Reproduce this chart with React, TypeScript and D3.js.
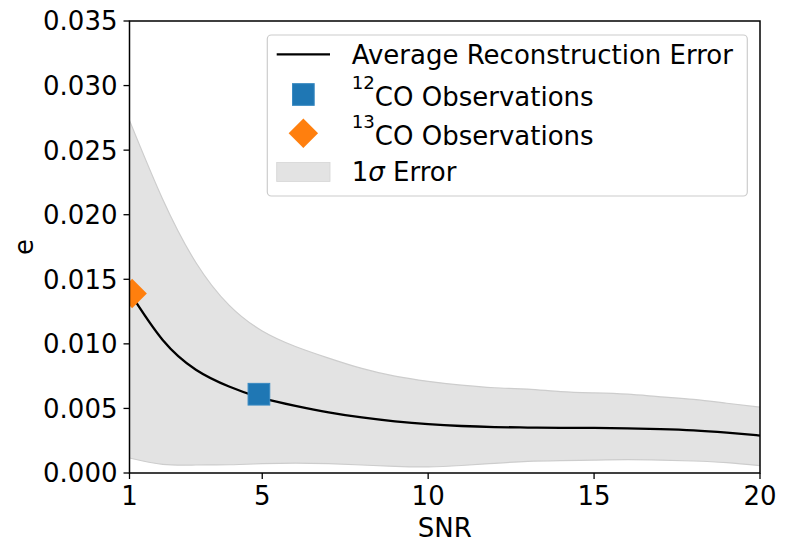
import * as d3 from 'd3';

const snr = [1, 2, 3, 4, 5, 6, 7, 8, 9, 10, 11, 12, 13, 14, 15, 16, 17, 18, 19, 20];
const meanErr = [0.0140, 0.0103, 0.0080, 0.0067, 0.0058, 0.0052, 0.0047, 0.0043, 0.0040, 0.00378, 0.00364, 0.00356, 0.00352, 0.0035, 0.00349, 0.00346, 0.0034, 0.0033, 0.00312, 0.0029];
const upperErr = [0.0273, 0.0212, 0.0163, 0.0130, 0.0110, 0.0098, 0.0089, 0.0081, 0.0075, 0.0071, 0.0068, 0.0066, 0.0065, 0.0063, 0.0062, 0.0061, 0.0059, 0.0057, 0.0054, 0.0051];
const lowerErr = [0.00116, 0.00067, 0.00062, 0.00064, 0.00072, 0.00077, 0.00072, 0.00062, 0.00051, 0.00047, 0.00058, 0.00075, 0.0009, 0.00096, 0.0010, 0.00103, 0.0010, 0.00093, 0.0008, 0.00057];

const obs12 = { snr: 4.9, e: 0.0061 };
const obs13 = { snr: 1.08, e: 0.0139 };

const xTicks = [1, 5, 10, 15, 20];
const yTicks = [0, 0.005, 0.01, 0.015, 0.02, 0.025, 0.03, 0.035];

const W = 789;
const H = 554;
const margin = { left: 129.5, right: 29, top: 21, bottom: 81 };
const FONT = '"DejaVu Sans", sans-serif';
const FS = 26;

export default function App() {
  const x = d3.scaleLinear().domain([1, 20]).range([margin.left, W - margin.right]);
  const y = d3.scaleLinear().domain([0, 0.035]).range([H - margin.bottom, margin.top]);

  const pts = snr.map((s, i) => ({ s, m: meanErr[i], u: upperErr[i], l: lowerErr[i] }));
  type P = typeof pts[number];

  const band = d3.area<P>().x(d => x(d.s)).y0(d => y(d.l)).y1(d => y(d.u)).curve(d3.curveNatural);
  const upperLine = d3.line<P>().x(d => x(d.s)).y(d => y(d.u)).curve(d3.curveNatural);
  const lowerLine = d3.line<P>().x(d => x(d.s)).y(d => y(d.l)).curve(d3.curveNatural);
  const meanLine = d3.line<P>().x(d => x(d.s)).y(d => y(d.m)).curve(d3.curveNatural);

  const x0 = x.range()[0], x1 = x.range()[1];
  const y0 = y.range()[0], y1 = y.range()[1];

  const sq = 21.7;
  const dm = 14.7;
  const diamond = (cx: number, cy: number) =>
    `M${cx},${cy - dm}L${cx + dm},${cy}L${cx},${cy + dm}L${cx - dm},${cy}Z`;

  // legend
  const lg = { x: 267.3, y: 35, w: 480, h: 161 };
  const handleX0 = 276.7, handleX1 = 330, textX = 351.7;
  const rows = [54.3, 94.5, 133.3, 172];

  return (
    <svg width={W} height={H} style={{ position: 'absolute', left: 0, top: 0 }} fontFamily={FONT}>
      <rect width={W} height={H} fill="#fff" />
      <defs>
        <clipPath id="plot-clip">
          <rect x={x0} y={y1} width={x1 - x0} height={y0 - y1} />
        </clipPath>
      </defs>

      <g clipPath="url(#plot-clip)">
        <path d={band(pts) || ''} fill="#e3e3e3" />
        <path d={upperLine(pts) || ''} fill="none" stroke="#cdcdcd" strokeWidth={1.2} />
        <path d={lowerLine(pts) || ''} fill="none" stroke="#cdcdcd" strokeWidth={1.2} />
        <path d={meanLine(pts) || ''} fill="none" stroke="#000" strokeWidth={2.3} />
        <rect x={x(obs12.snr) - sq / 2} y={y(obs12.e) - sq / 2} width={sq} height={sq}
          fill="#1f77b4" stroke="#3a8ac2" strokeWidth={1} />
        <path d={diamond(x(obs13.snr), y(obs13.e))} fill="#ff7f0e" />
      </g>

      {/* spines */}
      <rect x={x0} y={y1} width={x1 - x0} height={y0 - y1} fill="none" stroke="#000" strokeWidth={1.5} />

      {xTicks.map(t => (
        <g key={'x' + t}>
          <line x1={x(t)} x2={x(t)} y1={y0} y2={y0 + 6} stroke="#000" strokeWidth={1.3} />
          <text x={x(t)} y={505} textAnchor="middle" fontSize={FS} fill="#000">{t}</text>
        </g>
      ))}
      {yTicks.map(t => (
        <g key={'y' + t}>
          <line x1={x0 - 6} x2={x0} y1={y(t)} y2={y(t)} stroke="#000" strokeWidth={1.3} />
          <text x={x0 - 12} y={y(t)} dy="0.36em" textAnchor="end" fontSize={FS} fill="#000">{d3.format('.3f')(t)}</text>
        </g>
      ))}

      <text x={(x0 + x1) / 2} y={537} textAnchor="middle" fontSize={FS} fill="#000">SNR</text>
      <text transform={`translate(33,${(y0 + y1) / 2}) rotate(-90)`} textAnchor="middle" fontSize={FS} fill="#000">e</text>

      {/* legend */}
      <rect x={lg.x} y={lg.y} width={lg.w} height={lg.h} rx={4} fill="#fff" fillOpacity={0.8} stroke="#cccccc" strokeWidth={1.2} />
      <line x1={handleX0} x2={handleX1} y1={rows[0]} y2={rows[0]} stroke="#000" strokeWidth={2.3} />
      <rect x={(handleX0 + handleX1) / 2 - sq / 2} y={rows[1] - sq / 2} width={sq} height={sq} fill="#1f77b4" stroke="#3a8ac2" strokeWidth={1} />
      <path d={diamond((handleX0 + handleX1) / 2, rows[2])} fill="#ff7f0e" />
      <rect x={handleX0} y={rows[3] - 9.5} width={handleX1 - handleX0} height={19} fill="#e3e3e3" stroke="#d5d5d5" strokeWidth={0.8} />

      <text x={textX} y={rows[0]} dy="0.36em" fontSize={FS} fill="#000">Average Reconstruction Error</text>
      <text x={textX} y={rows[1]} dy="0.36em" fontSize={FS} fill="#000">
        <tspan fontSize={FS * 0.7} dy="-0.3em">12</tspan>
        <tspan dy="0.65em">CO Observations</tspan>
      </text>
      <text x={textX} y={rows[2]} dy="0.36em" fontSize={FS} fill="#000">
        <tspan fontSize={FS * 0.7} dy="-0.3em">13</tspan>
        <tspan dy="0.65em">CO Observations</tspan>
      </text>
      <text x={textX} y={rows[3]} dy="0.36em" fontSize={FS} fill="#000">
        1<tspan fontStyle="italic">σ</tspan> Error
      </text>
    </svg>
  );
}
